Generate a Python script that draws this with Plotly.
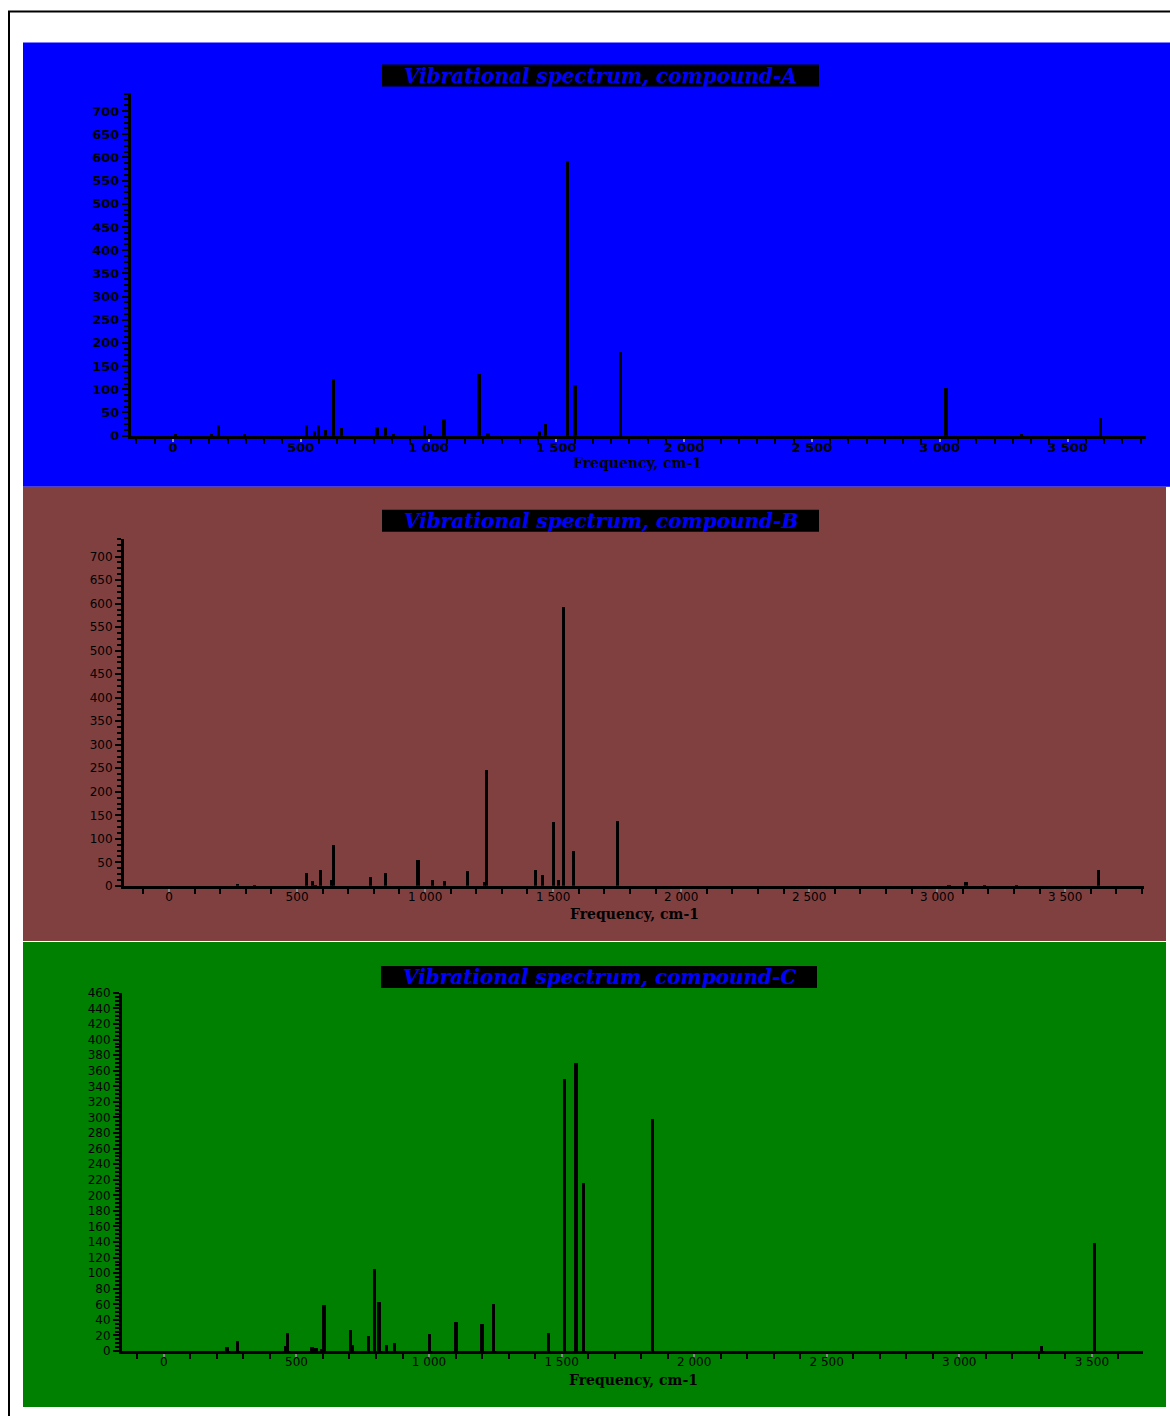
import plotly.graph_objects as go

W, H = 1170, 1416
# vertical correction measured from earlier renders (picture y = SC*page y + SB)
SC, SB = 0.989, 6.5

# ---------------- data ----------------
freq_A = [9, 151, 178, 279, 523, 553, 570, 597, 628, 660, 798, 832, 864, 985, 1006, 1060,
          1197, 1233, 1435, 1458, 1543, 1573, 1752, 3025, 3319, 3628]
int_A = [4, 4, 24, 4, 24, 11, 23, 14, 123, 18, 20, 20, 5, 24, 4, 37,
         133, 6, 11, 27, 593, 110, 181, 103, 4, 39]

freq_B = [266, 333, 538, 561, 573, 592, 634, 643, 788, 846, 972, 1030, 1076, 1166, 1232,
          1241, 1432, 1459, 1502, 1522, 1541, 1580, 1752, 3046, 3113, 3184, 3309, 3629]
int_B = [5, 1, 29, 12, 3, 35, 14, 87, 20, 27, 55, 14, 12, 33, 9,
         247, 35, 24, 137, 14, 593, 74, 139, 2, 9, 2, 2, 35]

freq_C = [238, 278, 458, 467, 558, 573, 594, 604, 703, 710, 772, 795, 811, 840, 870, 1001,
          1101, 1199, 1243, 1451, 1511, 1555, 1582, 1843, 3311, 3510]
int_C = [5, 13, 6, 23.5, 5, 4, 3, 59, 27.5, 8, 20, 106, 63, 8, 10.5, 22,
         38, 35, 60, 23.5, 350, 370, 216, 298, 6, 139]

titles = ["Vibrational spectrum, compound-A",
          "Vibrational spectrum, compound-B",
          "Vibrational spectrum, compound-C"]
x_title = "Frequency, cm-1"

# ---------------- layout helpers (pixel geometry) ----------------
def px(x):
    return x / W

def py(y):
    return 1 - ((y - SB) / SC) / H

panels = [
    dict(freq=freq_A, inten=int_A, bg="#0000ff", rect=(23, 42, 1172, 486),
         box=(382, 64, 819, 86), xdom=(131, 1146), ydom=(435, 92),
         xr=[-164, 3807], yr=[0, 740], ydt=50, ymdt=12.5, xmdt=500 / 7, bold=True,
         xtitle_y=462, xtitle_x=638, tsize=13),
    dict(freq=freq_B, inten=int_B, bg="#804040", rect=(23, 486, 1166, 940),
         box=(382, 509, 819, 531), xdom=(124, 1144), ydom=(885, 538),
         xr=[-176, 3808], yr=[0, 738], ydt=50, ymdt=12.5, xmdt=100, bold=False,
         xtitle_y=913, xtitle_x=634, tsize=12),
    dict(freq=freq_C, inten=int_C, bg="#008000", rect=(23, 941, 1166, 1406),
         box=(381, 965, 817, 987), xdom=(122, 1143), ydom=(1350, 992),
         xr=[-158, 3693], yr=[0, 460], ydt=20, ymdt=5, xmdt=100, bold=False,
         xtitle_y=1379, xtitle_x=633, tsize=12),
]

fig = go.Figure()
shapes = []
annotations = []

# outer border
shapes.append(dict(type="rect", xref="paper", yref="paper",
                   x0=px(9), x1=1.02, y0=py(11), y1=-0.02,
                   line=dict(color="black", width=2), fillcolor="rgba(0,0,0,0)",
                   layer="below"))

for i, p in enumerate(panels, start=1):
    xa = "x" if i == 1 else f"x{i}"
    ya = "y" if i == 1 else f"y{i}"
    fig.add_trace(go.Bar(x=p["freq"], y=p["inten"], width=[13] * len(p["freq"]),
                         marker=dict(color="black", line=dict(width=0)),
                         xaxis=xa, yaxis=ya, showlegend=False, hoverinfo="x+y"))
    r = p["rect"]
    shapes.append(dict(type="rect", xref="paper", yref="paper",
                       x0=px(r[0]), x1=px(r[2]), y0=py(r[3]), y1=py(r[1]),
                       fillcolor=p["bg"], line=dict(width=0), layer="below"))
    b = p["box"]
    shapes.append(dict(type="rect", xref="paper", yref="paper",
                       x0=px(b[0]), x1=px(b[2]), y0=py(b[3]), y1=py(b[1]),
                       fillcolor="black", line=dict(width=0), layer="below"))
    annotations.append(dict(xref="paper", yref="paper",
                            x=px((b[0] + b[2]) / 2), y=py((b[1] + b[3]) / 2),
                            xanchor="center", yanchor="middle", showarrow=False,
                            text="<b><i>" + titles[i - 1] + "</i></b>",
                            font=dict(family="DejaVu Serif", size=20, color="#0000ff")))
    annotations.append(dict(xref="paper", yref="paper",
                            x=px(p["xtitle_x"]), y=py(p["xtitle_y"]),
                            xanchor="center", yanchor="middle", showarrow=False,
                            text="<b>" + x_title + "</b>",
                            font=dict(family="DejaVu Serif", size=14, color="black")))

    fam = "DejaVu Sans"
    tfont = dict(family=fam, size=p["tsize"], color="black")
    xaxis = dict(domain=[px(p["xdom"][0]), px(p["xdom"][1])], range=p["xr"],
                 anchor=ya, showgrid=False, zeroline=False,
                 showline=True, linecolor="black", linewidth=3,
                 ticks="outside", ticklen=3, tickcolor="#888888", tickwidth=2,
                 dtick=500, tick0=0, tickformat=",d",
                 tickfont=tfont, fixedrange=True, ticklabelstandoff=-5,
                 minor=dict(dtick=p["xmdt"], tick0=0, ticks="outside", ticklen=5,
                            tickcolor="black", tickwidth=2, showgrid=False))
    yaxis = dict(domain=[py(p["ydom"][0]), py(p["ydom"][1])], range=p["yr"],
                 anchor=xa, showgrid=False, zeroline=False,
                 showline=True, linecolor="black", linewidth=3,
                 ticks="outside", ticklen=6, tickcolor="black", tickwidth=2,
                 dtick=p["ydt"], tick0=0, tickformat="d",
                 tickfont=tfont, fixedrange=True,
                 minor=dict(dtick=p["ymdt"], tick0=0, ticks="outside", ticklen=4,
                            tickcolor="black", tickwidth=1.5, showgrid=False))
    if p["bold"]:
        xaxis["tickprefix"] = "<b>"
        xaxis["ticksuffix"] = "</b>"
        yaxis["tickprefix"] = "<b>"
        yaxis["ticksuffix"] = "</b>"
    key = "" if i == 1 else str(i)
    fig.update_layout(**{"xaxis" + key: xaxis, "yaxis" + key: yaxis})

fig.update_layout(width=W, height=H, margin=dict(l=0, r=0, t=0, b=0),
                  paper_bgcolor="white", plot_bgcolor="rgba(0,0,0,0)",
                  separators=". ", bargap=0, shapes=shapes, annotations=annotations,
                  showlegend=False)

post = ("document.documentElement.style.margin='0';"
        "document.body.style.margin='0';document.body.style.padding='0';"
        "document.body.style.overflow='hidden';"
        "var d=document.querySelector('.plotly-graph-div');"
        "if(d){d.style.position='fixed';d.style.left='0px';d.style.top='0px';}")

fig.write_html("out.html", config={"displayModeBar": False}, post_script=post)
